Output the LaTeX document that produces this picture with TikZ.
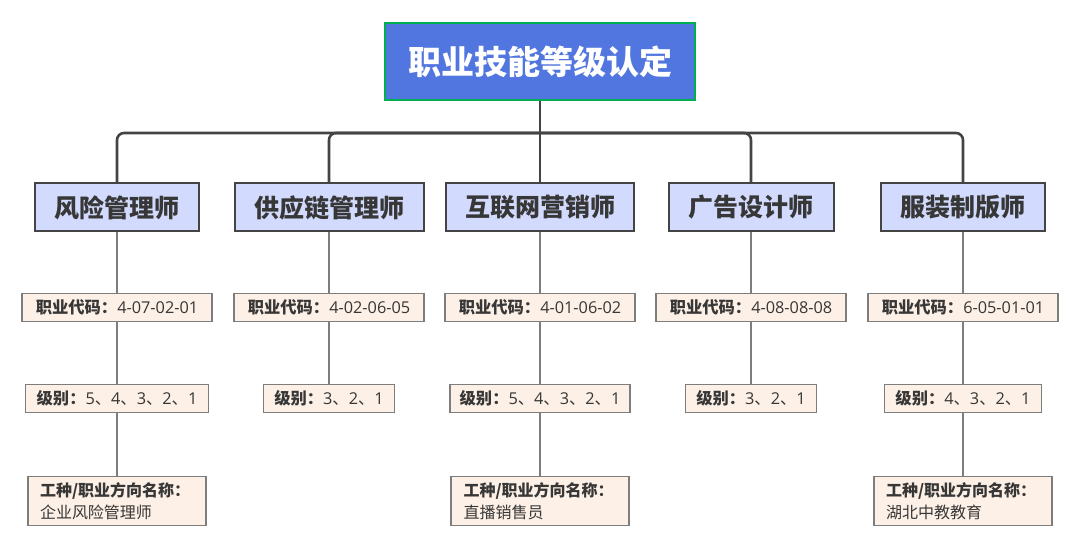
\documentclass[tikz,border=0pt]{standalone}
\usepackage{fontspec}
\setmainfont{Noto Sans CJK SC}
\newfontfamily\digitfont{Open Sans}
\definecolor{titleblue}{RGB}{82,118,223}
\definecolor{titlegreen}{RGB}{0,176,80}
\definecolor{lavender}{RGB}{210,219,253}
\definecolor{peach}{RGB}{253,240,230}
\definecolor{darkline}{RGB}{68,68,68}
\definecolor{greyline}{RGB}{125,125,125}
\definecolor{inkgrey}{RGB}{55,55,55}
\newcommand{\num}[1]{{\digitfont #1}}

\begin{document}
\begin{tikzpicture}[x=1pt,y=1pt]
\tikzstyle{every node}+=[inner sep=0pt]
\tikzstyle{titlebox}=[draw=titlegreen, line width=2.5pt, fill=titleblue, minimum width=310, minimum height=77, text=white, font=\fontsize{33}{40}\selectfont\bfseries]
\tikzstyle{rolebox}=[draw=darkline, line width=2pt, fill=lavender, minimum height=48, text=inkgrey, font=\fontsize{25}{30}\selectfont\bfseries]
\tikzstyle{codebox}=[draw=greyline, line width=1.2pt, fill=peach, minimum width=190, minimum height=28, text=inkgrey, font=\fontsize{16.3}{19}\selectfont]
\tikzstyle{gradebox}=[codebox]
\tikzstyle{namebox}=[codebox, minimum width=178, minimum height=49, inner xsep=12pt, align=left, font=\fontsize{16}{22}\selectfont]
\tikzstyle{trunk}=[draw=darkline, line width=2.6pt, rounded corners=7pt]
\tikzstyle{twig}=[draw=greyline, line width=1.2pt]
\useasboundingbox (0,0) rectangle (1080,-548);
\node[titlebox] (top) at (540,-61.5) {职业技能等级认定};
\node[rolebox, minimum width=164] (r1) at (117,-207.5) {风险管理师};
\node[rolebox, minimum width=189] (r2) at (329,-207.5) {供应链管理师};
\node[rolebox, minimum width=188] (r3) at (540,-207.5) {互联网营销师};
\node[rolebox, minimum width=165] (r4) at (751,-207.5) {广告设计师};
\node[rolebox, minimum width=164] (r5) at (963,-207.5) {服装制版师};
\node[codebox] (c1) at (117,-307.5) {\textbf{职业代码：}\num{4-07-02-01}};
\node[codebox] (c2) at (329,-307.5) {\textbf{职业代码：}\num{4-02-06-05}};
\node[codebox] (c3) at (540,-307.5) {\textbf{职业代码：}\num{4-01-06-02}};
\node[codebox] (c4) at (751,-307.5) {\textbf{职业代码：}\num{4-08-08-08}};
\node[codebox] (c5) at (963,-307.5) {\textbf{职业代码：}\num{6-05-01-01}};
\node[gradebox, minimum width=183] (g1) at (117,-398.5) {\textbf{级别：}\num{5}、\num{4}、\num{3}、\num{2}、\num{1}};
\node[gradebox, minimum width=131] (g2) at (329,-398.5) {\textbf{级别：}\num{3}、\num{2}、\num{1}};
\node[gradebox, minimum width=180] (g3) at (540,-398.5) {\textbf{级别：}\num{5}、\num{4}、\num{3}、\num{2}、\num{1}};
\node[gradebox, minimum width=131] (g4) at (751,-398.5) {\textbf{级别：}\num{3}、\num{2}、\num{1}};
\node[gradebox, minimum width=157] (g5) at (963,-398.5) {\textbf{级别：}\num{4}、\num{3}、\num{2}、\num{1}};
\node[namebox, text width=154] (n1) at (117,-501) {\textbf{工种/职业方向名称：}\\企业风险管理师};
\node[namebox, text width=153] (n3) at (540,-501) {\textbf{工种/职业方向名称：}\\直播销售员};
\node[namebox, text width=154] (n5) at (963,-501) {\textbf{工种/职业方向名称：}\\湖北中教教育};
\coordinate (bar) at (540,-133);
\draw[trunk] (top.south) -- (r3.north);
\draw[trunk] (bar) -| (r1.north);
\draw[trunk] (bar) -| (r2.north);
\draw[trunk] (bar) -| (r4.north);
\draw[trunk] (bar) -| (r5.north);
\draw[twig] (r1.south) -- (c1.north) (c1.south) -- (g1.north) (g1.south) -- (n1.north);
\draw[twig] (r2.south) -- (c2.north) (c2.south) -- (g2.north);
\draw[twig] (r3.south) -- (c3.north) (c3.south) -- (g3.north) (g3.south) -- (n3.north);
\draw[twig] (r4.south) -- (c4.north) (c4.south) -- (g4.north);
\draw[twig] (r5.south) -- (c5.north) (c5.south) -- (g5.north) (g5.south) -- (n5.north);
\end{tikzpicture}
\end{document}
